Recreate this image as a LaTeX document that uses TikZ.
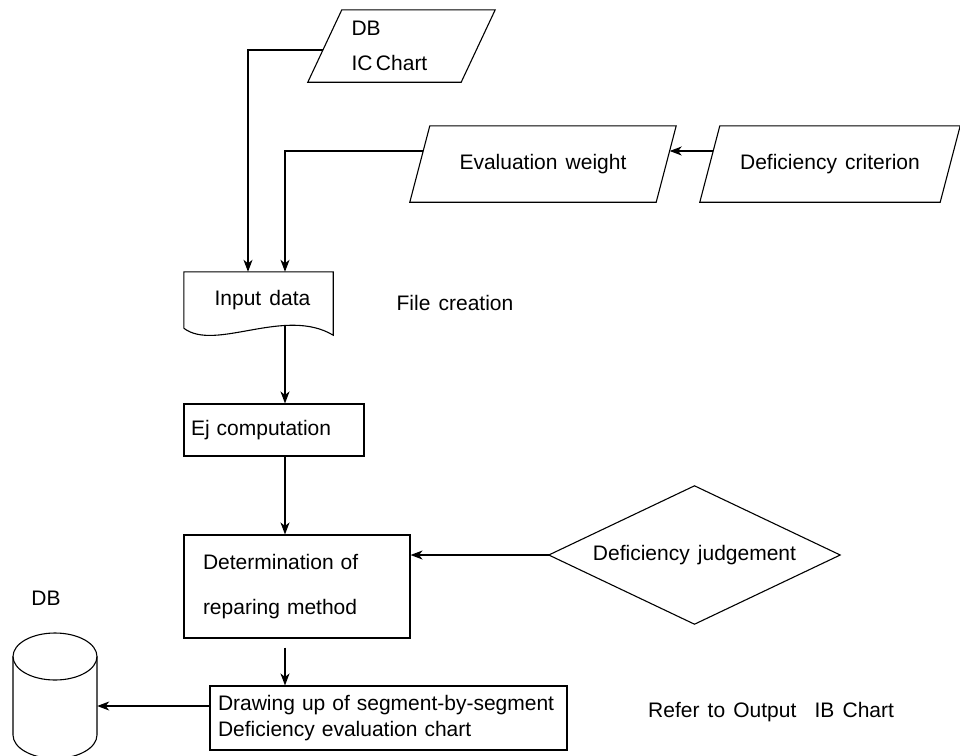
\documentclass[tikz,border=0pt]{standalone}
\usepackage{fontspec}
\setmainfont{Liberation Sans}[WordSpace=1.4]
\usetikzlibrary{arrows.meta,calc}
\begin{document}
\begin{tikzpicture}[x=1pt,y=-1pt,
  line/.style={line width=1.1pt, black},
  arr/.style={line, -{Stealth[length=12pt,width=9pt,inset=3.5pt]}},
  txt/.style={font=\fontsize{21}{25}\selectfont, inner sep=0pt},
  box/.style={txt, draw, line width=1.1pt, align=left},
]
\useasboundingbox (0,0) rectangle (960,755);
\clip (0,0) rectangle (960,755);

% --- input symbols (slanted) ---
\node[txt, minimum width=153pt, minimum height=72pt, text width=100pt, align=left,
      font=\fontsize{21}{35}\selectfont] (ic) at (401.5,46) {DB\\IC\,Chart};
\draw[line] ($(ic.north west)+(17,0)$) -- ($(ic.north east)+(17,0)$)
  -- ($(ic.south east)+(-17,0)$) -- ($(ic.south west)+(-17,0)$) -- cycle;

\node[txt, minimum width=246pt, minimum height=76pt] (ew) at (543,164) {Evaluation weight};
\draw[line] ($(ew.north west)+(10,0)$) -- ($(ew.north east)+(10,0)$)
  -- ($(ew.south east)+(-10,0)$) -- ($(ew.south west)+(-10,0)$) -- cycle;

\node[txt, minimum width=240pt, minimum height=76pt] (dc) at (830,164) {Deficiency criterion};
\draw[line] ($(dc.north west)+(10,0)$) -- ($(dc.north east)+(10,0)$)
  -- ($(dc.south east)+(-10,0)$) -- ($(dc.south west)+(-10,0)$) -- cycle;

% --- document symbol ---
\node[txt, minimum width=149pt, minimum height=56pt] (inp) at (258.5,300) {\hspace{8pt}Input data};
\draw[line] (inp.south west) -- (inp.north west) -- (inp.north east) -- ($(inp.south east)+(0,7)$)
  .. controls ($(inp.south)+(26.5,-22)$) and ($(inp.south)+(-43.5,24)$) .. (inp.south west);

\node[txt] (file) at (455,303) {File creation};

% --- process boxes ---
\node[box, minimum width=180pt, minimum height=52pt, text width=166pt] (ej) at (274,430) {Ej computation};

\node[box, minimum width=226pt, minimum height=103pt, text width=188pt,
      font=\fontsize{21}{45}\selectfont] (det) at (297,586.5) {Determination of\\reparing method};

\node[box, minimum width=357pt, minimum height=64pt, text width=341pt,
      font=\fontsize{21}{26}\selectfont] (dr) at (388.5,718)
      {Drawing up of segment-by-segment\\Deficiency evaluation chart};

\node[txt, anchor=west] (refer) at (648,712) {Refer to Output\hspace{10pt} IB Chart};

% --- decision ---
\node[txt, minimum width=291pt, minimum height=138pt] (dj) at (694.5,555) {Deficiency judgement};
\draw[line] (dj.west) -- (dj.north) -- (dj.east) -- (dj.south) -- cycle;

% --- database cylinder ---
\node[txt] (dblabel) at (46,598) {DB};
\node[inner sep=0pt, minimum width=84pt, minimum height=100pt] (db) at (55,706) {};
\draw[line] (55,656.5) ellipse [x radius=42pt, y radius=23.5pt];
\draw[line] (13,656.5) -- (13,735) arc[start angle=180, end angle=360, x radius=42pt, y radius=23.5pt]
  -- (97,656.5);

% --- connectors ---
\coordinate (spine) at (285,0);
\draw[arr] ($(ic.west)+(-1.9,4)$) -| ([xshift=-10.5pt]inp.north);
\draw[arr] ($(ew.west)+(3.5,-13)$) -| ([xshift=26.5pt]inp.north);
\draw[arr] ($(dc.west)+(3.5,-13)$) -- ($(ew.east)+(3.5,-13)$);
\draw[arr] ($(inp.south -| spine)+(0,-3)$) -- (ej.north -| spine);
\draw[arr] (ej.south -| spine) -- (det.north -| spine);
\draw[arr, shorten <=9pt] (det.south -| spine) -- (dr.north -| spine);
\draw[arr] (dj.west) -- (dj.west -| det.east);
\draw[arr] ($(dr.west)+(0,-12)$) -- ($(dr.west -| db.east)+(0,-12)$);
\end{tikzpicture}
\end{document}
